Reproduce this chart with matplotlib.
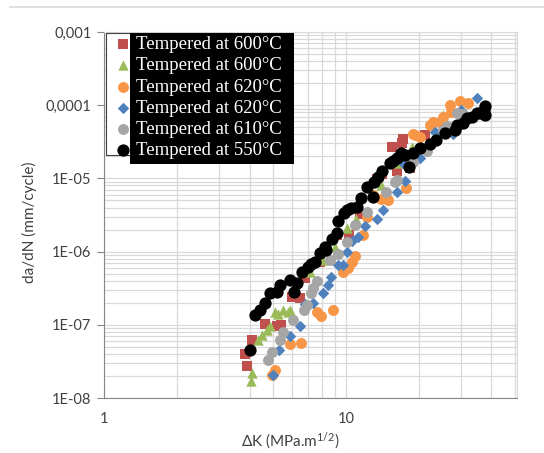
import matplotlib
matplotlib.use("Agg")
import matplotlib.pyplot as plt
from matplotlib.patches import Rectangle
from matplotlib.lines import Line2D
from matplotlib.ticker import NullFormatter

plt.rcParams['font.family'] = ['Lato', 'DejaVu Sans']
plt.rcParams['mathtext.fontset'] = 'custom'
plt.rcParams['mathtext.rm'] = 'Lato'
plt.rcParams['mathtext.default'] = 'regular'

# data: dK (MPa.m^1/2), da/dN (mm/cycle)
red_dk = [3.83, 3.90, 4.10, 4.65, 5.20, 5.40, 6.00, 6.46, 6.80, 7.80, 9.20, 10.3, 11.4,
          13.4, 14.1, 15.5, 16.2, 17.0, 17.2, 18.4, 21.2]
red_da = [4.0e-8, 2.75e-8, 6.2e-8, 1.03e-7, 9.5e-8, 1.0e-7, 2.4e-7, 2.3e-7, 4.3e-7, 7.3e-7,
          1.7e-6, 1.69e-6, 3.3e-6, 9.9e-6, 1.15e-5, 2.7e-5, 1.26e-5, 3.0e-5, 3.5e-5, 1.37e-5, 3.9e-5]

green_dk = [4.07, 4.10, 4.35, 4.48, 4.70, 4.85, 5.09, 5.25, 5.50, 5.77, 5.90, 7.10, 8.05,
            9.00, 10.1, 11.0, 14.0, 16.4, 18.7, 25.3, 26.9]
green_da = [1.7e-8, 2.2e-8, 6.2e-8, 7.3e-8, 8.5e-8, 9.5e-8, 1.5e-7, 1.4e-7, 1.6e-7, 1.5e-7,
            1.59e-7, 5.3e-7, 7.7e-7, 1.15e-6, 2.1e-6, 2.8e-6, 8.1e-6, 1.6e-5, 2.7e-5, 7.35e-5, 8.6e-5]

orange_dk = [4.95, 5.09, 5.85, 6.50, 7.60, 7.90, 8.85, 9.75, 10.2, 10.6, 10.9, 11.8, 12.2,
             12.9, 14.0, 15.0, 17.3, 17.8, 18.9, 19.3, 20.2, 22.2, 22.9, 24.5, 25.3, 26.9,
             27.3, 29.6, 32.0]
orange_da = [2.06e-8, 2.45e-8, 5.4e-8, 5.6e-8, 1.5e-7, 1.3e-7, 1.59e-7, 5.3e-7, 5.9e-7, 7.3e-7,
             8.6e-7, 1.69e-6, 3.0e-6, 5.9e-6, 5.3e-6, 5.07e-6, 1.78e-5, 7.3e-6, 4.1e-5, 3.9e-5,
             3.7e-5, 5.4e-5, 5.9e-5, 5.9e-5, 6.9e-5, 1.0e-4, 8.1e-5, 1.15e-4, 1.06e-4]

blue_dk = [5.0, 5.3, 5.87, 6.46, 6.77, 7.3, 8.05, 8.45, 8.7, 9.3, 9.75, 10.1, 10.6, 11.2,
           12.0, 13.4, 14.3, 16.2, 17.2, 17.5, 20.2, 23.3, 27.7, 30.0, 34.8]
blue_da = [2.06e-8, 4.5e-8, 7.0e-8, 9.5e-8, 1.95e-7, 2.0e-7, 2.7e-7, 3.5e-7, 4.5e-7, 6.6e-7,
           6.6e-7, 1.0e-6, 1.4e-6, 1.6e-6, 2.25e-6, 2.8e-6, 3.7e-6, 6.5e-6, 1.6e-5, 9.3e-6,
           1.9e-5, 4.3e-5, 4.1e-5, 8.6e-5, 1.27e-4]

gray_dk = [4.77, 4.95, 5.34, 5.50, 6.06, 6.70, 6.90, 7.20, 7.30, 7.60, 8.60, 9.30, 10.1,
           10.9, 12.2, 14.7, 15.9, 16.2, 18.9, 21.6, 25.3, 26.1, 28.7, 30.4]
gray_da = [3.3e-8, 4.3e-8, 6.2e-8, 8.0e-8, 1.16e-7, 1.59e-7, 1.86e-7, 2.7e-7, 3.2e-7, 4.0e-7,
           7.7e-7, 9.3e-7, 1.37e-6, 2.3e-6, 3.5e-6, 6.5e-6, 9.0e-6, 9.5e-6, 1.7e-5, 2.4e-5,
           4.6e-5, 5.2e-5, 7.8e-5, 7.5e-5]

black_dk = [4.01, 4.21, 4.41, 4.63, 4.85, 5.20, 5.34, 5.87, 6.10, 6.30, 6.60, 6.97, 7.20,
            7.45, 7.81, 8.19, 8.27, 8.80, 9.20, 9.30, 9.80, 10.1, 10.5, 11.1, 11.5, 12.2,
            12.9, 13.05, 13.6, 14.1, 15.2, 15.6, 16.2, 16.9, 17.6, 18.2, 18.9, 20.2, 22.2,
            23.6, 25.6, 28.2, 28.7, 30.4, 31.6, 33.1, 34.8, 35.8, 37.1, 37.5, 37.5]
black_da = [4.52e-8, 1.36e-7, 1.59e-7, 2.0e-7, 2.7e-7, 2.8e-7, 3.5e-7, 4.1e-7, 2.8e-7, 3.7e-7,
            5.3e-7, 6.1e-7, 6.8e-7, 7.2e-7, 9.5e-7, 1.17e-6, 1.05e-6, 1.5e-6, 1.8e-6, 2.6e-6,
            3.4e-6, 3.7e-6, 3.95e-6, 4.1e-6, 5.4e-6, 7.6e-6, 5.6e-6, 8.9e-6, 1.05e-5, 1.26e-5,
            1.6e-5, 1.72e-5, 1.9e-5, 2.2e-5, 2.1e-5, 1.45e-5, 2.2e-5, 2.6e-5, 2.95e-5, 3.35e-5,
            4.2e-5, 4.6e-5, 5.4e-5, 5.7e-5, 6.7e-5, 6.9e-5, 7.8e-5, 7.8e-5, 8.6e-5, 7.35e-5, 9.8e-5]

labels = ["Tempered at 600°C", "Tempered at 600°C", "Tempered at 620°C",
          "Tempered at 620°C", "Tempered at 610°C", "Tempered at 550°C"]
y_ticks = [1e-8, 1e-7, 1e-6, 1e-5, 1e-4, 1e-3]
y_ticklabels = ["1E-08", "1E-07", "1E-06", "1E-05", "0,0001", "0,001"]

W, H = 544, 453
fig = plt.figure(figsize=(W / 100, H / 100), dpi=100)
ax = fig.add_axes([104 / W, 1 - 398 / H, 413 / W, 366 / H])

series = [
    (red_dk, red_da, '#c0504d', 's', 46),
    (green_dk, green_da, '#9bbb59', '^', 56),
    (orange_dk, orange_da, '#f79646', 'o', 62),
    (blue_dk, blue_da, '#4f81bd', 'D', 34),
    (gray_dk, gray_da, '#a5a5a5', 'o', 62),
    (black_dk, black_da, '#000000', 'o', 78),
]
handles = []
for (dk, da, col, mk, sz), lab in zip(series, labels):
    h = ax.scatter(dk, da, s=sz, marker=mk, color=col, linewidths=0, label=lab, zorder=3)
    handles.append(h)

ax.set_xscale('log')
ax.set_yscale('log')
ax.set_xlim(1, 51)
ax.set_ylim(1e-8, 1e-3)

ax.set_xticks([1, 10], ['1', '10'])
ax.set_yticks(y_ticks, y_ticklabels)
ax.xaxis.set_minor_formatter(NullFormatter())
ax.yaxis.set_minor_formatter(NullFormatter())
ax.tick_params(axis='x', which='both', length=0, pad=10, labelsize=10.5, labelcolor='#404040')
ax.tick_params(axis='y', which='major', length=5, width=0.8, color='#868686',
               labelsize=10.5, labelcolor='#404040', pad=4)
ax.tick_params(axis='y', which='minor', length=0)

ax.grid(which='both', color='#d9d9d9', lw=0.9)
ax.set_axisbelow(True)
for side in ['top', 'right']:
    ax.spines[side].set_color('#d9d9d9')
for side in ['left', 'bottom']:
    ax.spines[side].set_color('#868686')

ax.set_xlabel('ΔK (MPa.m$^{1/2}$)', fontsize=11, color='#404040')
ax.xaxis.set_label_coords(0.45, -0.088)
ax.set_ylabel('da/dN (mm/cycle)', fontsize=11, color='#404040')
ax.yaxis.set_label_coords(-0.162, 0.48)

# legend: white marker box + black text box behind it
fig.add_artist(Rectangle((106 / W, 1 - 155 / H), (232 - 106) / W, (155 - 33) / H,
                         transform=fig.transFigure, facecolor='white', edgecolor='#404040',
                         lw=0.8, zorder=2))
fig.add_artist(Rectangle((130 / W, 1 - 164 / H), (294 - 130) / W, (164 - 33) / H,
                         transform=fig.transFigure, facecolor='black', edgecolor='none',
                         zorder=3))
fig.legend(handles=handles, loc='upper left', bbox_to_anchor=(114 / W, 1 - 36 / H),
           frameon=False, borderpad=0, borderaxespad=0, handlelength=1.0,
           handletextpad=0.15, labelspacing=0.22, scatterpoints=1, labelcolor='white',
           prop={'family': 'Liberation Serif', 'size': 13.5})

fig.add_artist(Line2D([10 / W, 1], [1 - 7 / H, 1 - 7 / H], transform=fig.transFigure,
                      color='#d9d9d9', lw=1.2))

fig.savefig('out.png', dpi=100)
